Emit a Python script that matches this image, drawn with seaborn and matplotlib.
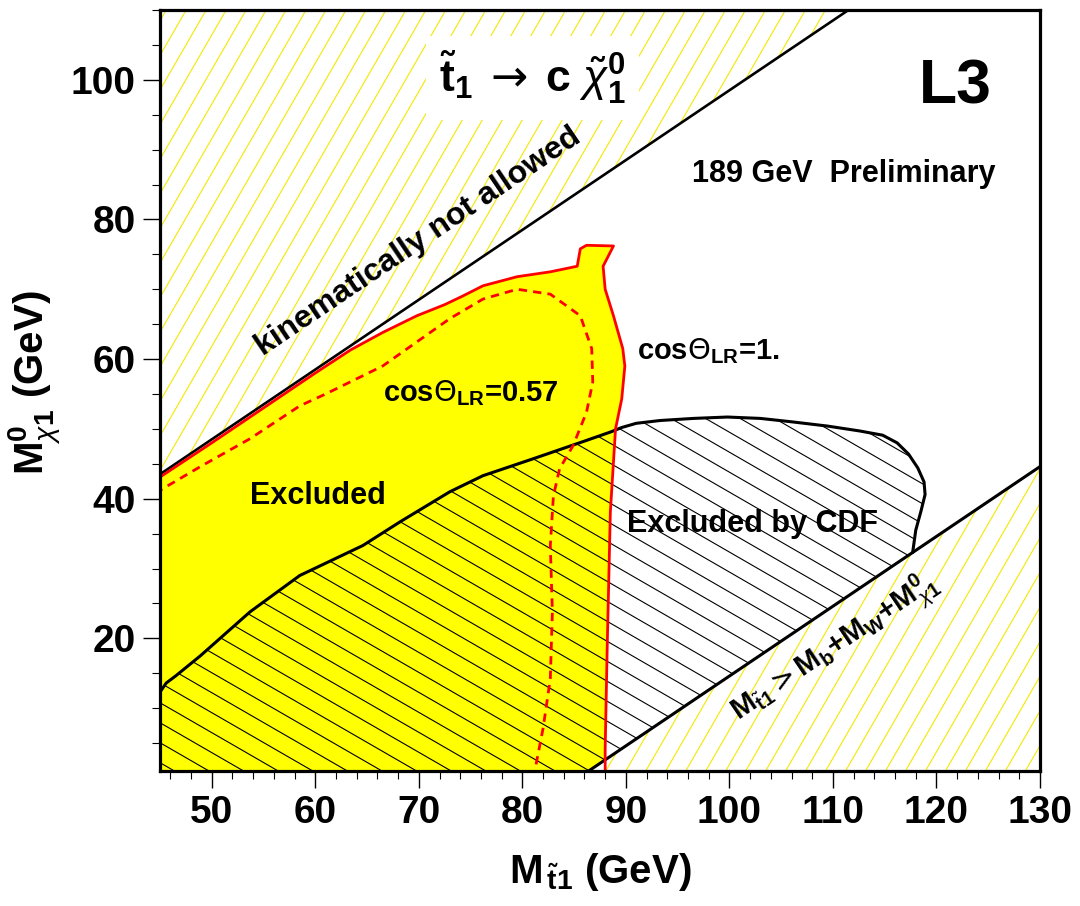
import numpy as np
import matplotlib
matplotlib.use("Agg")
import matplotlib.pyplot as plt
import seaborn as sns
from matplotlib.patches import Polygon
from matplotlib.collections import LineCollection
from matplotlib.transforms import IdentityTransform

# ---------------- data (GeV) ----------------
XLIM = (45.0, 130.0)
YLIM = (1.0, 110.0)

x_major = [50, 60, 70, 80, 90, 100, 110, 120, 130]
y_major = [20, 40, 60, 80, 100]

# kinematic limit  M_chi = M_stop - M_c
kin_x = [45.0, 111.5]
kin_y = [43.5, 110.0]

# M_stop > M_b + M_W + M_chi
low_x = [86.4, 130.0]
low_y = [1.0, 44.6]

# cos(Theta_LR) = 1 exclusion contour (solid red)
cos1_x = [45.0, 45.0, 50.0, 55.0, 60.0, 63.4, 66.5, 69.8, 72.5, 74.2, 76.2,
          79.5, 82.7, 85.3, 85.6, 86.2, 88.8, 87.8, 88.0, 88.8, 89.7, 89.9,
          89.6, 89.0, 88.5, 88.2, 88.0, 88.0]
cos1_y = [13.0, 43.1, 48.0, 53.0, 58.0, 61.3, 63.8, 66.2, 67.8, 69.0, 70.5,
          71.8, 72.5, 73.3, 75.8, 76.3, 76.2, 73.3, 70.0, 66.2, 61.5, 59.0,
          54.3, 50.0, 38.1, 19.0, 4.2, 1.0]

# cos(Theta_LR) = 0.57 exclusion contour (dashed red)
cos057_x = [45.0, 45.0, 48.9, 53.7, 58.5, 61.0, 66.5, 73.0, 76.2, 79.5, 82.7,
            85.6, 86.7, 86.8, 86.2, 84.9, 83.6, 83.0, 82.7, 82.9, 82.7, 82.0, 81.2]
cos057_y = [13.5, 41.2, 44.6, 48.6, 53.3, 55.0, 59.0, 65.8, 68.6, 70.0, 69.3,
            66.2, 61.5, 56.7, 52.4, 47.6, 44.3, 40.4, 33.3, 23.8, 14.2, 7.1, 1.0]

# CDF exclusion contour (black)
cdf_x = [45.0, 45.6, 46.5, 48.9, 53.7, 58.5, 64.6, 68.2, 73.0, 76.2, 81.0,
         85.9, 88.6, 89.6, 91.0, 93.3, 96.5, 99.8, 103.0, 106.1, 109.5, 112.6,
         114.8, 116.2, 117.3, 118.2, 118.8, 118.9, 118.5, 118.0, 117.7]
cdf_y = [12.3, 13.6, 14.6, 17.5, 23.8, 29.0, 33.3, 36.7, 41.0, 43.3, 45.7,
         48.2, 49.6, 50.2, 50.8, 51.2, 51.5, 51.7, 51.5, 51.0, 50.4, 49.7,
         49.1, 48.0, 46.4, 44.4, 42.4, 40.6, 38.2, 35.5, 32.3]

# ---------------- style ----------------
sns.set_style("white")
plt.rcParams["font.family"] = ["Liberation Sans", "DejaVu Sans"]
plt.rcParams["font.weight"] = "bold"
plt.rcParams["text.color"] = "black"
plt.rcParams["axes.labelcolor"] = "black"
plt.rcParams["xtick.color"] = "black"
plt.rcParams["ytick.color"] = "black"
plt.rcParams["mathtext.fontset"] = "custom"
plt.rcParams["mathtext.rm"] = "DejaVu Sans:weight=normal"
plt.rcParams["mathtext.it"] = "Liberation Sans:style=italic:weight=normal"
plt.rcParams["mathtext.bf"] = "Liberation Sans:weight=bold"
plt.rcParams["mathtext.fallback"] = "stixsans"

fig = plt.figure(figsize=(10.8, 9.06), dpi=100)
ax = fig.add_axes([160 / 1080, 1 - 771 / 906, 880 / 1080, 761 / 906])
ax.set_xlim(*XLIM)
ax.set_ylim(*YLIM)


def add_hatch(ax, patch, angle, spacing, color, lw, z):
    W, H = ax.figure.bbox.width, ax.figure.bbox.height
    t = np.deg2rad(angle)
    d = np.array([np.cos(t), np.sin(t)])
    n = np.array([-np.sin(t), np.cos(t)])
    L = np.hypot(W, H)
    c = np.array([W / 2, H / 2])
    segs = [[c + n * o - d * L, c + n * o + d * L]
            for o in np.arange(-L, L, spacing)]
    lc = LineCollection(segs, colors=color, linewidths=lw,
                        transform=IdentityTransform(), zorder=z)
    lc.set_clip_path(patch)
    ax.add_collection(lc, autolim=False)


YEL_H = "#f5e800"
HSP = 17.3

# forbidden region above kinematic line
up_poly = Polygon([(kin_x[0], kin_y[0]), (kin_x[1], kin_y[1]),
                   (XLIM[0], YLIM[1])], closed=True, fc="white", ec="none", zorder=1)
ax.add_patch(up_poly)
add_hatch(ax, up_poly, 60, HSP, YEL_H, 0.8, 1.1)

# yellow excluded region (cos=1)
yel_pts = [(XLIM[0], YLIM[0])] + list(zip(cos1_x, cos1_y)) + [(cos1_x[-1], YLIM[0])]
yel_poly = Polygon(yel_pts, closed=True, fc="#ffff00", ec="none", zorder=2)
ax.add_patch(yel_poly)

# CDF region
cdf_pts = list(zip(cdf_x, cdf_y)) + [(low_x[0], low_y[0]), (XLIM[0], YLIM[0])]
cdf_poly = Polygon(cdf_pts, closed=True, fc="none", ec="none", zorder=3)
ax.add_patch(cdf_poly)
add_hatch(ax, cdf_poly, -30, HSP, "black", 0.8, 3.1)

# forbidden region below M_b+M_W line
lo_poly = Polygon([(low_x[0], low_y[0]), (low_x[1], low_y[1]),
                   (XLIM[1], YLIM[0])], closed=True, fc="white", ec="none", zorder=3.5)
ax.add_patch(lo_poly)
add_hatch(ax, lo_poly, 60, HSP, YEL_H, 0.8, 3.6)

# lines
sns.lineplot(x=kin_x, y=kin_y, color="black", lw=1.9, ax=ax, zorder=4)
sns.lineplot(x=low_x, y=low_y, color="black", lw=2.2, ax=ax, zorder=4)
sns.lineplot(x=cdf_x, y=cdf_y, color="black", lw=2.2, sort=False,
             estimator=None, ax=ax, zorder=4)
sns.lineplot(x=cos1_x, y=cos1_y, color="#ff0000", lw=2.0, sort=False,
             estimator=None, ax=ax, zorder=4.5)
sns.lineplot(x=cos057_x, y=cos057_y, color="#ff0000", lw=2.0, sort=False,
             estimator=None, ax=ax, zorder=4.5, linestyle=(0, (3, 2.2)))

# texts
ax.text(81.0, 100.3,
        r"$\tilde{\mathbf{t}}_{\mathbf{1}}\;\rightarrow\;\mathbf{c}\ \tilde{\chi}^{\mathbf{0}}_{\mathbf{1}}$",
        ha="center", va="center", fontsize=32, zorder=6,
        bbox=dict(boxstyle="square,pad=0.3", fc="white", ec="none"))
ax.text(121.8, 98.9, "L3", ha="center", va="center", fontsize=45, zorder=6)
ax.text(111.0, 86.5, "189 GeV  Preliminary", ha="center", va="center",
        fontsize=22, zorder=6)
ax.text(69.9, 76.8, "kinematically not allowed", rotation=34,
        rotation_mode="anchor", ha="center", va="center", fontsize=23, zorder=6)
ax.text(91.1, 60.0, r"cos$\Theta_{\mathbf{LR}}$=1.", ha="left", va="baseline",
        fontsize=21, zorder=6)
ax.text(66.5, 54.0, r"cos$\Theta_{\mathbf{LR}}$=0.57", ha="left", va="baseline",
        fontsize=21, zorder=6)
ax.text(53.7, 39.3, "Excluded", ha="left", va="baseline", fontsize=22, zorder=6)
ax.text(90.1, 35.3, "Excluded by CDF", ha="left", va="baseline", fontsize=22, zorder=6)
ax.text(100.8, 8.2,
        r"$\mathbf{M}_{\tilde{\mathbf{t}}\mathbf{1}}>\mathbf{M}_{\mathbf{b}}$+$\mathbf{M}_{\mathbf{W}}$+$\mathbf{M}_{\chi\mathbf{1}}^{\mathbf{0}}$",
        rotation=34, rotation_mode="anchor", ha="left", va="baseline",
        fontsize=21, zorder=6)

# axes styling
ax.set_xticks(x_major)
ax.set_xticks(np.arange(46, 131, 2), minor=True)
ax.set_yticks(y_major)
ax.set_yticks(np.arange(5, 111, 5), minor=True)
ax.tick_params(which="major", direction="out", length=12.5, width=1.0,
               labelsize=28, pad=5, bottom=True, left=True, colors="black")
ax.tick_params(which="minor", direction="out", length=6, width=0.8,
               bottom=True, left=True, colors="black")
for lab in ax.get_xticklabels() + ax.get_yticklabels():
    lab.set_fontweight("bold")
for sp in ax.spines.values():
    sp.set_linewidth(2.3)
    sp.set_color("black")
    sp.set_zorder(10)

ax.set_xlabel(r"$\mathbf{M}_{\,\tilde{\mathbf{t}}\mathbf{1}}$ (GeV)", fontsize=29,
              fontweight="bold", color="black")
ax.set_ylabel(r"$\mathbf{M}_{\chi\mathbf{1}}^{\mathbf{0}}$ (GeV)", fontsize=29,
              fontweight="bold", color="black")
ax.xaxis.set_label_coords(0.5, -0.105)
ax.yaxis.set_label_coords(-0.11, 0.51)

fig.savefig("out.png", dpi=100)
